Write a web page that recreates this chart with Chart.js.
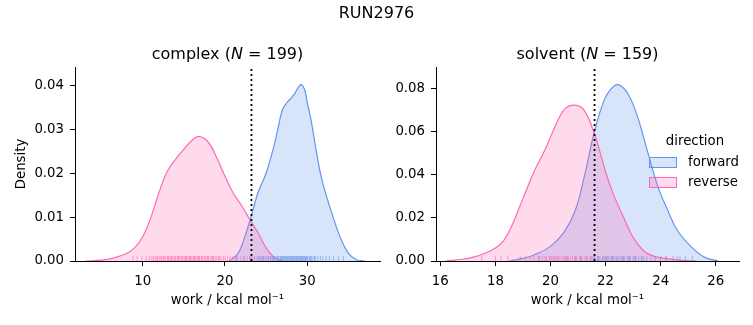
<!DOCTYPE html>
<html><head><meta charset="utf-8">
<script src="https://cdn.jsdelivr.net/npm/chart.js@4.4.1/dist/chart.umd.min.js"></script>
<style>
html,body{margin:0;padding:0;background:#fff;}
#wrap{position:relative;width:753px;height:325px;font-family:"DejaVu Sans",sans-serif;color:#000;overflow:hidden;}
canvas{position:absolute;top:0;}
.t{position:absolute;white-space:nowrap;transform:translate(-50%,-50%);line-height:1;}
.l{position:absolute;white-space:nowrap;line-height:1;font-size:13.3px;transform:translateY(-50%);}
.p{position:absolute;width:26px;height:9px;}
</style></head><body>
<div id="wrap">
<canvas id="c1" width="390" height="325" style="left:0px"></canvas>
<canvas id="c2" width="363" height="325" style="left:390px"></canvas>
<div class="t" id="sup" style="left:376.5px;top:13px;font-size:16px"></div>
<div class="t" id="t1" style="left:227.5px;top:54px;font-size:16px"></div>
<div class="t" id="t2" style="left:587.5px;top:54px;font-size:16px"></div>
<div class="t" id="legTitle" style="left:695px;top:141px;font-size:13.3px"></div>
<div class="p" id="p1" style="left:649px;top:157px"></div>
<div class="l" id="l1" style="left:688px;top:162px"></div>
<div class="p" id="p2" style="left:649px;top:177px"></div>
<div class="l" id="l2" style="left:688px;top:182px"></div>
</div>
<script>
// ---------- data ----------
const figureTitle = "RUN2976";
const panelNames = ["complex", "solvent"];
const panelN = [199, 159];
const directions = ["forward", "reverse"];
const xAxisLabel = "work / kcal mol\u207B\u00B9";
const yAxisLabel = "Density";

// KDE curves (x in kcal/mol, density)
const complexForwardX = [20.5, 21.5, 22.0, 23.0, 24.0, 25.0, 26.0, 26.5, 27.0, 27.5, 28.0, 28.5, 29.0, 29.3, 29.7, 30.0, 30.5, 31.0, 31.5, 32.0, 33.0, 34.0, 35.0, 36.0, 37.0];
const complexForwardY = [0.0000, 0.0015, 0.0033, 0.0090, 0.0155, 0.0200, 0.0265, 0.0307, 0.0345, 0.0360, 0.0370, 0.0382, 0.0398, 0.0402, 0.0390, 0.0362, 0.0318, 0.0262, 0.0210, 0.0170, 0.0109, 0.0055, 0.0018, 0.0003, 0.0000];
const complexReverseX = [3.0, 5.0, 6.0, 7.0, 8.0, 9.0, 10.0, 11.0, 12.0, 13.0, 14.0, 15.0, 16.0, 16.8, 18.0, 19.0, 20.0, 21.0, 22.0, 23.0, 24.0, 25.0, 26.0, 27.0];
const complexReverseY = [0.0000, 0.0002, 0.0005, 0.0010, 0.0017, 0.0030, 0.0056, 0.0100, 0.0158, 0.0205, 0.0232, 0.0255, 0.0275, 0.0284, 0.0270, 0.0235, 0.0193, 0.0155, 0.0127, 0.0095, 0.0065, 0.0030, 0.0008, 0.0000];
const solventForwardX = [18.5, 19.0, 19.4, 20.0, 20.5, 20.9, 21.25, 21.6, 21.95, 22.2, 22.45, 22.8, 23.15, 23.5, 23.9, 24.25, 24.6, 25.1, 25.6, 26.1];
const solventForwardY = [0.0000, 0.0012, 0.0028, 0.0068, 0.0135, 0.0235, 0.0405, 0.0605, 0.0748, 0.0800, 0.0820, 0.0780, 0.0675, 0.0520, 0.0346, 0.0238, 0.0144, 0.0067, 0.0017, 0.0000];
const solventReverseX = [16.2, 16.8, 17.2, 17.6, 18.0, 18.3, 18.6, 19.0, 19.4, 19.8, 20.2, 20.5, 20.85, 21.2, 21.6, 22.0, 22.3, 22.7, 23.0, 23.4, 23.8, 24.3, 24.8, 25.3];
const solventReverseY = [0.0000, 0.0008, 0.0018, 0.0035, 0.0060, 0.0095, 0.0165, 0.0290, 0.0415, 0.0517, 0.0635, 0.0705, 0.0725, 0.0705, 0.0590, 0.0415, 0.0305, 0.0190, 0.0110, 0.0045, 0.0020, 0.0010, 0.0003, 0.0000];

// individual work values (rug)
const complexForwardRug = [21.4, 22.3, 23.0, 23.3, 23.6, 23.9, 24.1, 24.3, 24.5, 24.7, 24.9, 25.1, 25.3, 25.5, 25.6, 25.8, 25.9, 26.1, 26.2, 26.4, 26.5, 26.7, 26.8, 26.9, 27.0, 27.1, 27.2, 27.3, 27.4, 27.5, 27.6, 27.7, 27.8, 27.9, 28.0, 28.1, 28.2, 28.3, 28.4, 28.5, 28.6, 28.7, 28.8, 28.9, 29.0, 29.1, 29.2, 29.3, 29.4, 29.5, 29.6, 29.7, 29.8, 29.9, 30.0, 30.1, 30.3, 30.4, 30.5, 30.7, 30.9, 31.0, 31.3, 31.6, 31.9, 32.3, 32.7, 33.2, 33.8, 34.4];
const complexReverseRug = [8.8, 9.3, 9.9, 10.4, 10.8, 11.1, 11.3, 11.5, 11.7, 11.8, 12.0, 12.2, 12.3, 12.5, 12.6, 12.8, 13.0, 13.1, 13.2, 13.4, 13.5, 13.6, 13.8, 13.9, 14.0, 14.2, 14.3, 14.4, 14.5, 14.7, 14.8, 14.9, 15.1, 15.2, 15.3, 15.4, 15.6, 15.7, 15.8, 15.9, 16.1, 16.2, 16.3, 16.4, 16.6, 16.7, 16.8, 16.9, 17.1, 17.2, 17.3, 17.5, 17.6, 17.8, 17.9, 18.0, 18.2, 18.4, 18.5, 18.6, 18.8, 19.0, 19.2, 19.3, 19.5, 19.8, 20.0, 20.3, 20.6, 20.9, 21.2, 21.5, 21.9, 22.3, 22.7, 23.1, 23.6, 24.1, 24.6, 25.3];
const solventForwardRug = [19.6, 20.2, 20.6, 20.9, 21.1, 21.3, 21.45, 21.55, 21.6, 21.7, 21.75, 21.8, 21.9, 21.95, 22.0, 22.05, 22.1, 22.2, 22.25, 22.3, 22.38, 22.45, 22.52, 22.6, 22.65, 22.7, 22.8, 22.85, 22.9, 23.0, 23.05, 23.1, 23.2, 23.3, 23.35, 23.5, 23.65, 23.8, 24.0, 24.2, 24.45, 24.7, 24.9, 25.15];
const solventReverseRug = [17.5, 18.0, 18.2, 18.45, 18.9, 19.1, 19.25, 19.4, 19.55, 19.7, 19.8, 19.85, 19.95, 20.0, 20.05, 20.1, 20.15, 20.25, 20.3, 20.35, 20.45, 20.5, 20.55, 20.6, 20.65, 20.72, 20.8, 20.88, 20.92, 20.95, 21.05, 21.1, 21.15, 21.25, 21.35, 21.45, 21.5, 21.6, 21.75, 21.9, 22.05, 22.2, 22.4, 22.6, 22.85, 23.1, 23.4, 23.8, 24.2, 24.6];

// dotted reference lines
const complexCut = 23.22;
const solventCut = 21.6;

// axis ranges and ticks
const complexXRange = [1.75, 38.86];
const complexYRange = [0, 0.0442];
const complexXTicks = [10, 20, 30];
const complexYTicks = [0.00, 0.01, 0.02, 0.03, 0.04];
const solventXRange = [15.843, 26.845];
const solventYRange = [0, 0.0902];
const solventXTicks = [16, 18, 20, 22, 24, 26];
const solventYTicks = [0.00, 0.02, 0.04, 0.06, 0.08];

// ---------- styles ----------
const FONT = "'DejaVu Sans', sans-serif";
const BLUE = "rgb(100,149,237)";
const BLUE_FILL = "rgba(100,149,237,0.25)";
const BLUE_RUG = "rgba(100,149,237,0.6)";
const PINK = "rgb(255,105,180)";
const PINK_FILL = "rgba(255,105,180,0.25)";
const PINK_RUG = "rgba(255,105,180,0.6)";

document.getElementById('sup').textContent = figureTitle;
document.getElementById('t1').innerHTML = panelNames[0] + " (<i>N</i> = " + panelN[0] + ")";
document.getElementById('t2').innerHTML = panelNames[1] + " (<i>N</i> = " + panelN[1] + ")";
document.getElementById('legTitle').textContent = "direction";
document.getElementById('l1').textContent = directions[0];
document.getElementById('l2').textContent = directions[1];
const p1 = document.getElementById('p1'); p1.style.background = BLUE_FILL; p1.style.border = "1px solid " + BLUE;
const p2 = document.getElementById('p2'); p2.style.background = PINK_FILL; p2.style.border = "1px solid " + PINK;

function pts(xs, ys) { return xs.map((x, i) => ({x: x, y: ys[i]})); }
function rugPts(v) { return v.map(x => ({x: x, y: 0})); }

function makeConfig(p) {
  const kdeDs = (xs, ys, line, fill) => ({
    type: 'line', data: pts(xs, ys), borderColor: line, backgroundColor: fill,
    fill: 'origin', borderWidth: 1.2, pointRadius: 0, tension: 0.4, clip: 0
  });
  const rugDs = (vals, col) => ({
    type: 'scatter', data: rugPts(vals), showLine: false, pointStyle: 'line', pointRotation: 90,
    pointRadius: 5, pointBorderColor: col, borderColor: col, pointBorderWidth: 1, borderWidth: 1, clip: 0
  });
  return {
    type: 'line',
    data: { datasets: [
      { type: 'line', data: [{x: p.cut, y: p.yRange[0]}, {x: p.cut, y: p.yRange[1]}], borderColor: '#000',
        borderWidth: 1.8, borderDash: [2, 3], pointRadius: 0, fill: false, clip: 0 },
      rugDs(p.rugR, PINK_RUG),
      rugDs(p.rugF, BLUE_RUG),
      kdeDs(p.rx, p.ry, PINK, PINK_FILL),
      kdeDs(p.fx, p.fy, BLUE, BLUE_FILL)
    ]},
    options: {
      responsive: false, animation: false, events: [], devicePixelRatio: 1,
      layout: { padding: { top: 67, right: p.padRight, left: 0, bottom: 0 } },
      plugins: { legend: { display: false }, tooltip: { enabled: false }, title: { display: false } },
      scales: {
        x: {
          type: 'linear', min: p.xRange[0], max: p.xRange[1], z: 1,
          afterBuildTicks: s => { s.ticks = p.xTicks.map(v => ({value: v})); },
          afterFit: s => { s.height = 64; },
          ticks: { color: '#000', font: { family: FONT, size: 13.3 }, padding: 8, maxRotation: 0, autoSkip: false },
          grid: { display: true, drawOnChartArea: false, drawTicks: true, tickLength: 5, color: '#000', lineWidth: 1 },
          border: { display: true, color: '#000', width: 1 },
          title: { display: true, text: xAxisLabel, color: '#000', font: { family: FONT, size: 13.3 }, padding: { top: 0, bottom: 16 } }
        },
        y: {
          type: 'linear', min: p.yRange[0], max: p.yRange[1], z: 1,
          afterBuildTicks: s => { s.ticks = p.yTicks.map(v => ({value: v})); },
          afterFit: s => { s.width = p.yWidth; },
          ticks: { color: '#000', font: { family: FONT, size: 13.3 }, padding: 6, autoSkip: false, callback: v => Number(v).toFixed(2) },
          grid: { display: true, drawOnChartArea: false, drawTicks: true, tickLength: 5, color: '#000', lineWidth: 1 },
          border: { display: true, color: '#000', width: 1 },
          title: { display: p.showYTitle, text: yAxisLabel, color: '#000', font: { family: FONT, size: 13.3 }, padding: { top: 13.5, bottom: 0 } }
        }
      }
    }
  };
}

new Chart(document.getElementById('c1'), makeConfig({
  fx: complexForwardX, fy: complexForwardY, rx: complexReverseX, ry: complexReverseY,
  rugF: complexForwardRug, rugR: complexReverseRug, cut: complexCut,
  xRange: complexXRange, yRange: complexYRange, xTicks: complexXTicks, yTicks: complexYTicks,
  padRight: 10, yWidth: 75, showYTitle: true
}));
new Chart(document.getElementById('c2'), makeConfig({
  fx: solventForwardX, fy: solventForwardY, rx: solventReverseX, ry: solventReverseY,
  rugF: solventForwardRug, rugR: solventReverseRug, cut: solventCut,
  xRange: solventXRange, yRange: solventYRange, xTicks: solventXTicks, yTicks: solventYTicks,
  padRight: 14, yWidth: 46, showYTitle: false
}));
</script>
</body></html>
